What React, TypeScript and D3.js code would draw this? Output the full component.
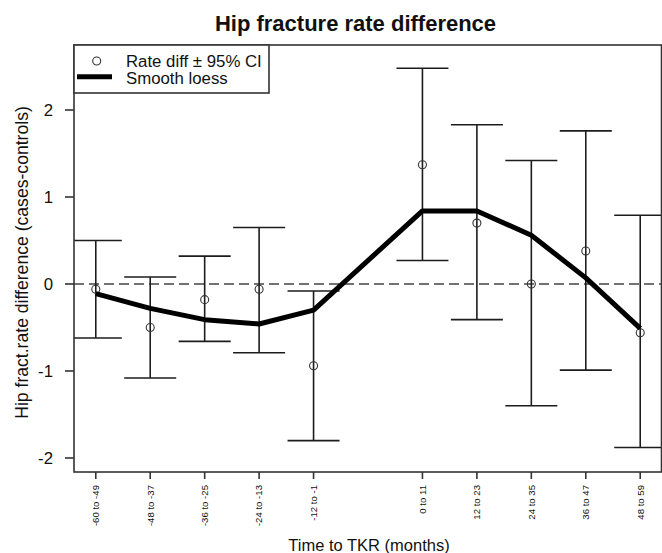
import React from "react";
import * as d3 from "d3";

const categories = ["-60 to -49", "-48 to -37", "-36 to -25", "-24 to -13", "-12 to -1", "0 to 11", "12 to 23", "24 to 35", "36 to 47", "48 to 59"];
const xIndex = [-5, -4, -3, -2, -1, 1, 2, 3, 4, 5];
const rateDiff = [-0.06, -0.5, -0.18, -0.06, -0.94, 1.37, 0.7, 0.0, 0.38, -0.56];
const ciLower = [-0.62, -1.08, -0.66, -0.79, -1.8, 0.27, -0.41, -1.4, -0.99, -1.88];
const ciUpper = [0.5, 0.08, 0.32, 0.65, -0.08, 2.48, 1.83, 1.42, 1.76, 0.79];
const loess = [-0.11, -0.28, -0.41, -0.46, -0.3, 0.84, 0.84, 0.56, 0.07, -0.51];
const yTicks = [-2, -1, 0, 1, 2];

const W = 662;
const H = 553;
const left = 74, right = 662, top = 45, bottom = 472;
const FONT = "'Liberation Sans', Arial, Helvetica, sans-serif";
const INK = "#1c1c1c";

export default function App() {
  const x = d3.scaleLinear().domain([-5.4, 5.4]).range([left, right]);
  const y = d3.scaleLinear().domain([-2.161, 2.747]).range([bottom, top]);
  const line = d3.line<number>().x((_, i) => x(xIndex[i])).y((d) => y(d));
  const cap = 26;

  return (
    <svg width={W} height={H} style={{ position: "absolute", left: 0, top: 0, background: "#fff" }} fontFamily={FONT}>
      <defs>
        <clipPath id="plotclip">
          <rect x={left} y={top} width={right - left} height={bottom - top} />
        </clipPath>
      </defs>
      <rect x={0} y={0} width={W} height={H} fill="#fff" />
      <text x={355.5} y={31} textAnchor="middle" fontSize={22} fontWeight="bold" fill="#111">
        Hip fracture rate difference
      </text>

      <g clipPath="url(#plotclip)">
        <line x1={left} x2={right} y1={y(0)} y2={y(0)} stroke="#444" strokeWidth={1.5} strokeDasharray="10,5" />
        {xIndex.map((xi, i) => (
          <g key={i} stroke={INK} strokeWidth={1.6}>
            <line x1={x(xi)} x2={x(xi)} y1={y(ciLower[i])} y2={y(ciUpper[i])} />
            <line x1={x(xi) - cap} x2={x(xi) + cap} y1={y(ciLower[i])} y2={y(ciLower[i])} />
            <line x1={x(xi) - cap} x2={x(xi) + cap} y1={y(ciUpper[i])} y2={y(ciUpper[i])} />
          </g>
        ))}
        {xIndex.map((xi, i) => (
          <circle key={"c" + i} cx={x(xi)} cy={y(rateDiff[i])} r={4} fill="none" stroke="#333" strokeWidth={1.1} />
        ))}
        <path d={line(loess) || ""} fill="none" stroke="#000" strokeWidth={5} strokeLinejoin="round" />
      </g>

      <rect x={left} y={top} width={right - left - 0.5} height={bottom - top} fill="none" stroke="#333" strokeWidth={1.6} />

      {/* legend */}
      <rect x={left} y={top} width={195} height={48} fill="#fff" stroke="#333" strokeWidth={1.6} />
      <circle cx={96.7} cy={61} r={4} fill="none" stroke="#333" strokeWidth={1.1} />
      <line x1={77} x2={112} y1={76.7} y2={76.7} stroke="#000" strokeWidth={5} />
      <text x={126} y={67} fontSize={16.8} fill="#111">Rate diff ± 95% CI</text>
      <text x={126} y={83.5} fontSize={16.8} fill="#111">Smooth loess</text>

      {/* y axis */}
      {yTicks.map((t) => (
        <g key={t}>
          <line x1={left - 9} x2={left} y1={y(t)} y2={y(t)} stroke="#333" strokeWidth={1.6} />
          <text x={53} y={y(t)} dy="0.36em" textAnchor="end" fontSize={16.8} fill="#111">
            {t}
          </text>
        </g>
      ))}
      <text transform={`translate(27.5,262.5) rotate(-90)`} textAnchor="middle" fontSize={17.6} fill="#111">
        Hip fract.rate difference (cases-controls)
      </text>

      {/* x axis */}
      {xIndex.map((xi, i) => (
        <g key={"x" + i}>
          <line x1={x(xi)} x2={x(xi)} y1={bottom} y2={bottom + 7} stroke="#333" strokeWidth={1.6} />
          <text transform={`translate(${x(xi)},485) rotate(-90)`} textAnchor="end" dy="0.35em" fontSize={9.6} fill="#111">
            {categories[i]}
          </text>
        </g>
      ))}
      <text x={369} y={551} textAnchor="middle" fontSize={16.5} fill="#111">
        Time to TKR (months)
      </text>
    </svg>
  );
}
